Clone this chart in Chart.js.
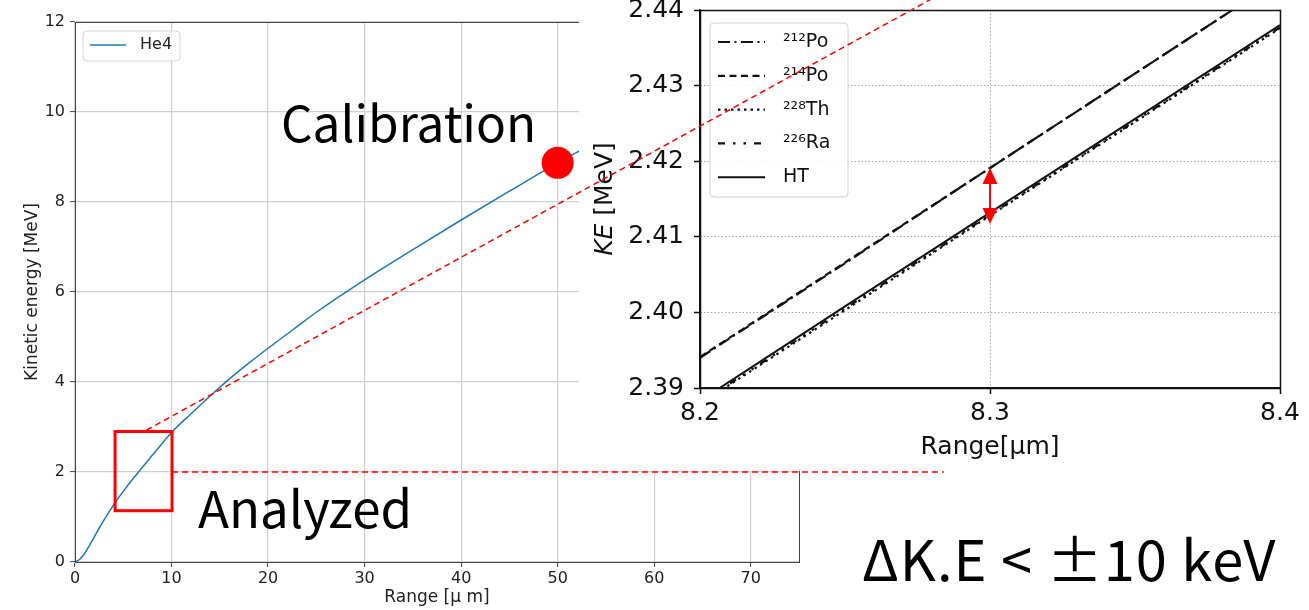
<!DOCTYPE html>
<html>
<head>
<meta charset="utf-8">
<script src="https://cdn.jsdelivr.net/npm/chart.js@4.4.1/dist/chart.umd.min.js"></script>
<style>
  html, body { margin: 0; padding: 0; background: #fff; width: 1309px; height: 610px; overflow: hidden; }
  #stage { position: relative; width: 1309px; height: 610px; }
  #mainWrap { position: absolute; left: 0; top: 0; width: 810px; height: 610px; }
  #insetWrap { position: absolute; left: 579px; top: 0; width: 730px; height: 471px; background: #fff; }
  #insetChart { filter: blur(0.4px); }
  #overlay { position: absolute; left: 0; top: 0; pointer-events: none; }
  .note { position: absolute; white-space: nowrap; line-height: 1; color: #000;
          font-family: "Noto Sans CJK JP", "Noto Sans", sans-serif; }
</style>
</head>
<body>
<div id="stage">
  <div id="mainWrap"><canvas id="mainChart" width="810" height="610"></canvas></div>
  <div id="insetWrap"><canvas id="insetChart" width="730" height="471"></canvas></div>
  <canvas id="overlay" width="1309" height="610"></canvas>
  <div class="note" style="left:281px; top:96px; font-size:49.5px;">Calibration</div>
  <div class="note" style="left:198px; top:481px; font-size:51px;">Analyzed</div>
  <div class="note" style="left:862px; top:529px; font-size:56px; letter-spacing:1px;">ΔK.E &lt; ±10 keV</div>
</div>
<script>
// ---- He4 kinetic energy vs. range (full curve) ----
const rangeUm = [0, 0.5, 1, 1.5, 2, 2.5, 3, 4, 5, 6, 7, 8, 9, 10, 12, 14, 16, 18, 20, 22.5, 25, 30, 35, 40, 45, 50, 55];
const he4KE   = [0, 0.06, 0.19, 0.37, 0.56, 0.75, 0.93, 1.27, 1.57, 1.85, 2.11, 2.37, 2.63, 2.88, 3.29, 3.69, 4.07, 4.42, 4.75, 5.15, 5.55, 6.27, 6.94, 7.60, 8.24, 8.87, 9.45];
const mainXTicks = [0, 10, 20, 30, 40, 50, 60, 70];
const mainYTicks = [0, 2, 4, 6, 8, 10, 12];

// calibration point on the curve
const calRange = 50;
const calKE = he4KE[rangeUm.indexOf(calRange)];

// analyzed window and its links to the zoomed panel
const analyzedRange = [4.15, 10.05];
const analyzedKE = [1.14, 2.90];
const linkFromMain = [7.4, 2.93];       // (range, KE) on the main axes
const linkToInset = [8.28, 2.4415];     // (range, KE) on the zoomed axes
const levelKE = 2;                      // horizontal guide level
const levelRange = [10.05, 90];

// ---- zoomed panel: 8.2 - 8.4 um ----
const insetRange = [8.2, 8.25, 8.3, 8.35, 8.4];
const po212KE = [2.3940, 2.4065, 2.4191, 2.4316, 2.4441];
const po214KE = [2.3941, 2.4066, 2.4191, 2.4316, 2.4441];
const th228KE = [2.3879, 2.4003, 2.4128, 2.4252, 2.4376];
const ra226KE = [2.3880, 2.4005, 2.4129, 2.4253, 2.4377];
const htKE    = [2.3883, 2.4008, 2.4132, 2.4256, 2.4380];
const insetXTicks = [8.2, 8.3, 8.4];
const insetYTicks = [2.39, 2.40, 2.41, 2.42, 2.43, 2.44];
const arrowRange = 8.3;
const arrowKE = [2.4191, 2.4117];

Chart.defaults.font.family = "'DejaVu Sans', sans-serif";
Chart.defaults.color = '#222';

const toPoints = (xs, ys) => xs.map((x, i) => ({ x: x, y: ys[i] }));

// matplotlib-like legend box
const mplLegend = {
  id: 'mplLegend',
  afterDraw(chart, args, o) {
    const ctx = chart.ctx, a = chart.chartArea;
    const items = chart.data.datasets.filter(d => d.inLegend !== false);
    const x = a.left + o.offsetX, y = a.top + o.offsetY, w = o.width, h = o.height, r = 4;
    ctx.save();
    ctx.beginPath();
    ctx.moveTo(x + r, y);
    ctx.arcTo(x + w, y, x + w, y + h, r);
    ctx.arcTo(x + w, y + h, x, y + h, r);
    ctx.arcTo(x, y + h, x, y, r);
    ctx.arcTo(x, y, x + w, y, r);
    ctx.closePath();
    ctx.fillStyle = 'rgba(255,255,255,0.85)';
    ctx.fill();
    ctx.strokeStyle = o.edge;
    ctx.lineWidth = 1;
    ctx.stroke();
    items.forEach((d, i) => {
      const cy = y + o.firstRow + i * o.rowGap;
      ctx.beginPath();
      ctx.setLineDash(d.borderDash || []);
      ctx.strokeStyle = d.borderColor;
      ctx.lineWidth = d.borderWidth;
      ctx.moveTo(x + o.sample0, cy);
      ctx.lineTo(x + o.sample1, cy);
      ctx.stroke();
      ctx.setLineDash([]);
      ctx.fillStyle = o.color;
      ctx.font = o.font;
      ctx.textBaseline = 'middle';
      ctx.textAlign = 'left';
      ctx.fillText(d.label, x + o.textX, cy);
    });
    ctx.restore();
  }
};

// full box around the plotting area
const frame = {
  id: 'frame',
  afterDatasetsDraw(chart, args, o) {
    const a = chart.chartArea, ctx = chart.ctx;
    ctx.save();
    ctx.strokeStyle = o.color;
    ctx.lineWidth = o.width;
    ctx.strokeRect(Math.round(a.left) + 0.5, Math.round(a.top) + 0.5, Math.round(a.right - a.left), Math.round(a.bottom - a.top));
    ctx.restore();
  }
};

// y title with italic symbol part
const mixedYTitle = {
  id: 'mixedYTitle',
  afterDraw(chart, args, o) {
    const ctx = chart.ctx, a = chart.chartArea;
    ctx.save();
    ctx.translate(o.x, (a.top + a.bottom) / 2);
    ctx.rotate(-Math.PI / 2);
    const fItalic = 'oblique ' + o.size + 'px "DejaVu Sans"';
    const fNormal = o.size + 'px "DejaVu Sans"';
    ctx.font = fItalic; const w1 = ctx.measureText(o.symbol).width;
    ctx.font = fNormal; const w2 = ctx.measureText(o.rest).width;
    let sx = -(w1 + w2) / 2;
    ctx.textBaseline = 'middle';
    ctx.fillStyle = o.color;
    ctx.font = fItalic; ctx.fillText(o.symbol, sx, 0);
    ctx.font = fNormal; ctx.fillText(o.rest, sx + w1, 0);
    ctx.restore();
  }
};

const fixedTicks = arr => scale => { scale.ticks = arr.map(v => ({ value: v })); };

const mainChart = new Chart(document.getElementById('mainChart'), {
  type: 'line',
  data: {
    datasets: [
      { label: 'Calibration', inLegend: false, data: [{ x: calRange, y: calKE }], showLine: false,
        pointRadius: 16, pointBackgroundColor: '#ff0000', pointBorderWidth: 0, order: 0 },
      { label: 'He4', data: toPoints(rangeUm, he4KE), borderColor: '#1f77b4', borderWidth: 1.5,
        pointRadius: 0, cubicInterpolationMode: 'monotone', order: 1 }
    ]
  },
  options: {
    responsive: false, animation: false, events: [],
    layout: { autoPadding: false, padding: { top: 22, right: 11, left: 0, bottom: 0 } },
    plugins: {
      legend: { display: false }, tooltip: { enabled: false },
      frame: { color: '#444', width: 1 },
      mplLegend: { offsetX: 8, offsetY: 9, width: 97, height: 30, firstRow: 14, rowGap: 0,
                   sample0: 7, sample1: 43, textX: 57, font: '16px "DejaVu Sans"', color: '#222', edge: '#d6d6d6' }
    },
    scales: {
      x: {
        type: 'linear', min: 0, max: 75,
        afterBuildTicks: fixedTicks(mainXTicks),
        afterFit: s => { s.height = 48; s.paddingLeft = 0; s.paddingRight = 0; },
        ticks: { font: { size: 16 }, padding: 2, maxRotation: 0, autoSkip: false, callback: v => String(v) },
        grid: { color: '#cfcfcf', lineWidth: 1.2, tickLength: 5, tickColor: '#444', tickWidth: 1 },
        border: { color: '#444', width: 1 },
        title: { display: true, text: 'Range [μ m]', font: { size: 17 }, padding: { top: 0, bottom: 2 } }
      },
      y: {
        type: 'linear', min: 0, max: 12,
        afterBuildTicks: fixedTicks(mainYTicks),
        afterFit: s => { s.width = 75; s.paddingTop = 0; s.paddingBottom = 0; },
        ticks: { font: { size: 16 }, padding: 5, callback: v => String(v) },
        grid: { color: '#cfcfcf', lineWidth: 1.2, tickLength: 5, tickColor: '#444', tickWidth: 1 },
        border: { color: '#444', width: 1 },
        title: { display: true, text: 'Kinetic energy [MeV]', font: { size: 17 }, padding: { top: 22, bottom: 0 } }
      }
    }
  },
  plugins: [frame, mplLegend]
});

const black = '#111';
const insetChart = new Chart(document.getElementById('insetChart'), {
  type: 'line',
  data: {
    datasets: [
      { label: '²¹²Po', data: toPoints(insetRange, po212KE), borderColor: black, borderWidth: 2.2, borderDash: [12, 4.5, 2, 4.5] },
      { label: '²¹⁴Po', data: toPoints(insetRange, po214KE), borderColor: black, borderWidth: 2.2, borderDash: [7, 4.5] },
      { label: '²²⁸Th', data: toPoints(insetRange, th228KE), borderColor: black, borderWidth: 2.2, borderDash: [2.5, 4] },
      { label: '²²⁶Ra', data: toPoints(insetRange, ra226KE), borderColor: black, borderWidth: 2.2, borderDash: [7, 8, 2.5, 8, 2.5, 8] },
      { label: 'HT',    data: toPoints(insetRange, htKE),    borderColor: black, borderWidth: 2.0, borderDash: [] }
    ]
  },
  options: {
    responsive: false, animation: false, events: [],
    elements: { point: { radius: 0 }, line: { tension: 0 } },
    layout: { autoPadding: false, padding: { top: 10, right: 29, left: 0, bottom: 0 } },
    plugins: {
      legend: { display: false }, tooltip: { enabled: false },
      frame: { color: black, width: 1.5 },
      mplLegend: { offsetX: 10, offsetY: 13, width: 138, height: 174, firstRow: 19, rowGap: 33.8,
                   sample0: 8, sample1: 55, textX: 73, font: '19px "DejaVu Sans"', color: '#111', edge: '#d0d0d0' },
      mixedYTitle: { x: 26, size: 25, symbol: 'KE', rest: ' [MeV]', color: '#111' }
    },
    scales: {
      x: {
        type: 'linear', min: 8.2, max: 8.4,
        afterBuildTicks: fixedTicks(insetXTicks),
        afterFit: s => { s.height = 83; s.paddingLeft = 0; s.paddingRight = 0; },
        ticks: { font: { size: 25 }, color: '#111', padding: 4, maxRotation: 0, autoSkip: false, callback: v => v.toFixed(1) },
        grid: { color: '#a8a8a8', lineWidth: 1, tickLength: 6, tickColor: black, tickWidth: 1.5 },
        border: { color: black, width: 1.5, dash: [1.5, 2] },
        title: { display: true, text: 'Range[μm]', font: { size: 25 }, color: '#111', padding: { top: 0, bottom: 9 } }
      },
      y: {
        type: 'linear', min: 2.39, max: 2.44,
        afterBuildTicks: fixedTicks(insetYTicks),
        afterFit: s => { s.width = 121; s.paddingTop = 0; s.paddingBottom = 0; },
        ticks: { font: { size: 25 }, color: '#111', padding: 10, autoSkip: false, callback: v => v.toFixed(2) },
        grid: { color: '#a8a8a8', lineWidth: 1, tickLength: 6, tickColor: black, tickWidth: 1.5 },
        border: { color: black, width: 1.5, dash: [1.5, 2] }
      }
    }
  },
  plugins: [frame, mplLegend, mixedYTitle]
});

// ---- red annotations across both panels ----
(function drawOverlay() {
  const ctx = document.getElementById('overlay').getContext('2d');
  const wrap = document.getElementById('insetWrap');
  const mx = mainChart.scales.x, my = mainChart.scales.y;
  const ix = insetChart.scales.x, iy = insetChart.scales.y;
  const mainPx = (x, y) => [mx.getPixelForValue(x), my.getPixelForValue(y)];
  const insetPx = (x, y) => [wrap.offsetLeft + ix.getPixelForValue(x), wrap.offsetTop + iy.getPixelForValue(y)];
  const red = '#ff0000';

  ctx.save();
  ctx.strokeStyle = red;
  ctx.lineWidth = 1.5;
  ctx.setLineDash([6, 4]);
  let p = mainPx(linkFromMain[0], linkFromMain[1]);
  let q = insetPx(linkToInset[0], linkToInset[1]);
  ctx.beginPath(); ctx.moveTo(p[0], p[1]); ctx.lineTo(q[0], q[1]); ctx.stroke();
  p = mainPx(levelRange[0], levelKE);
  q = mainPx(levelRange[1], levelKE);
  ctx.beginPath(); ctx.moveTo(p[0], p[1]); ctx.lineTo(q[0], q[1]); ctx.stroke();
  ctx.restore();

  // analyzed window
  const r0 = mainPx(analyzedRange[0], analyzedKE[1]);
  const r1 = mainPx(analyzedRange[1], analyzedKE[0]);
  ctx.save();
  ctx.strokeStyle = red;
  ctx.lineWidth = 3;
  ctx.strokeRect(r0[0], r0[1], r1[0] - r0[0], r1[1] - r0[1]);
  ctx.restore();

  // double-headed arrow between the two bands
  const top = insetPx(arrowRange, arrowKE[0]);
  const bot = insetPx(arrowRange, arrowKE[1]);
  const headL = 16, headW = 7.5;
  ctx.save();
  ctx.fillStyle = red; ctx.strokeStyle = red; ctx.lineWidth = 2;
  ctx.beginPath(); ctx.moveTo(top[0], top[1] + headL - 1); ctx.lineTo(bot[0], bot[1] - headL + 1); ctx.stroke();
  ctx.beginPath(); ctx.moveTo(top[0], top[1]); ctx.lineTo(top[0] - headW, top[1] + headL); ctx.lineTo(top[0] + headW, top[1] + headL); ctx.closePath(); ctx.fill();
  ctx.beginPath(); ctx.moveTo(bot[0], bot[1]); ctx.lineTo(bot[0] - headW, bot[1] - headL); ctx.lineTo(bot[0] + headW, bot[1] - headL); ctx.closePath(); ctx.fill();
  ctx.restore();
})();
</script>
</body>
</html>
